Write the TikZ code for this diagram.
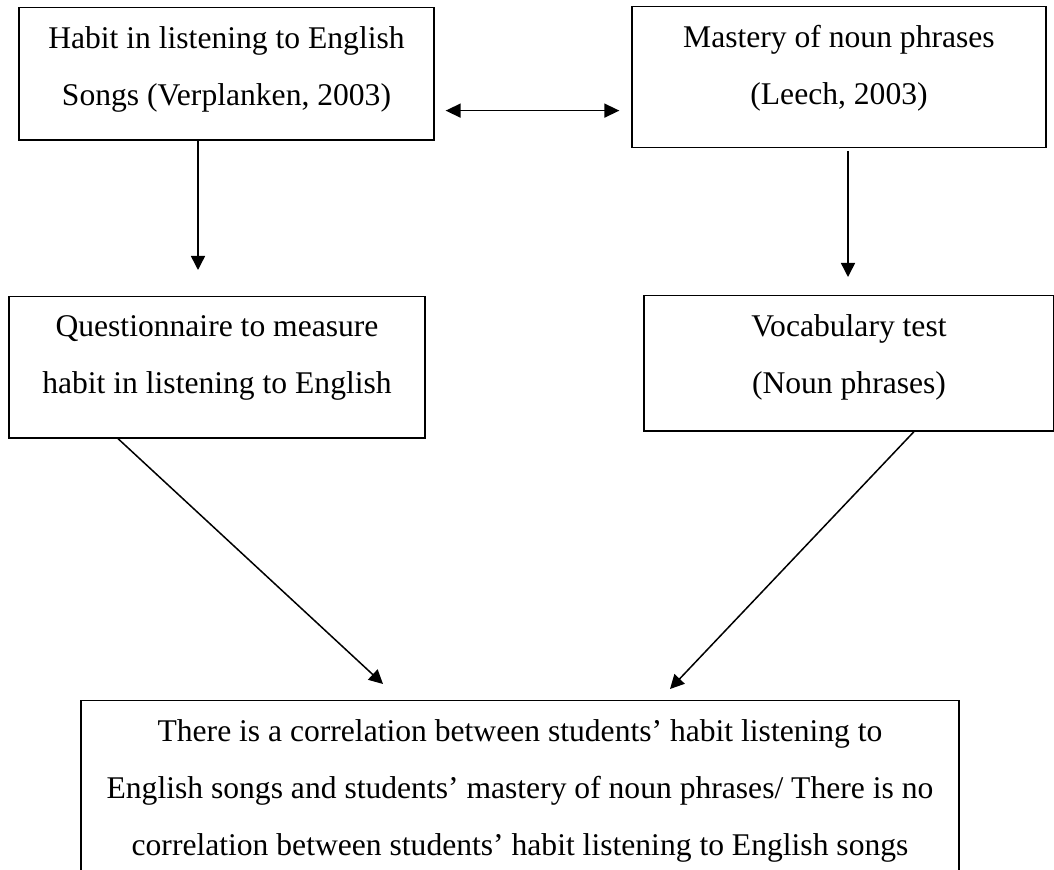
\documentclass[tikz,border=0pt]{standalone}
\usepackage{fontspec}
\setmainfont{Liberation Serif}
\usetikzlibrary{arrows.meta}

\begin{document}
\begin{tikzpicture}[x=1pt, y=-1pt, font=\fontsize{15.8}{28.5}\selectfont]

	\tikzstyle{box} = [draw, line width=0.65pt, rectangle, anchor=north, align=flush center, inner xsep=2pt, inner ysep=9.25pt]
	\tikzstyle{arrow} = [line width=0.75pt, -{Triangle[length=7pt,width=7pt]}]

	\useasboundingbox (0,0) rectangle (527,435);
	\clip (0,0) rectangle (527,435);

	% Boxes
	\node[box, text width=203.5pt, text depth=36.7pt] (habit) at (113.25,3.5) {Habit in listening to English\\ Songs (Verplanken, 2003)};
	\node[box, text width=203pt, text depth=40.7pt] (mastery) at (419.5,3) {Mastery of noun phrases\\ (Leech, 2003)};
	\node[box, text width=204pt, text depth=41.7pt] (questionnaire) at (108.5,148) {Questionnaire to measure\\ habit in listening to English};
	\node[box, text width=201pt, text depth=38.2pt] (vocabulary) at (424.5,147.5) {Vocabulary test\\ (Noun phrases)};
	\node[box, text width=435pt, text depth=150pt] (hypothesis) at (260,350) {There is a correlation between students’ habit listening to\\ English songs and students’ mastery of noun phrases/ There is no\\ correlation between students’ habit listening to English songs};

	% Arrows
	\draw[arrow, {Triangle[length=7.5pt,width=7pt]}-{Triangle[length=7.5pt,width=7pt]}] ([xshift=5.5pt,yshift=15pt]habit.south east) -- ([xshift=-6pt,yshift=15pt]habit.south east -| mastery.west);
	\draw[arrow] ([xshift=-14.25pt]habit.south) -- ([xshift=-14.25pt,yshift=13pt]habit.south |- questionnaire.north);
	\draw[arrow] ([xshift=4.5pt,yshift=-1.5pt]mastery.south) -- ([xshift=4.5pt,yshift=9pt]mastery.south |- vocabulary.north);
	\draw[arrow] ([xshift=-49.5pt]questionnaire.south) -- ([xshift=-68.5pt,yshift=8pt]hypothesis.north);
	\draw[arrow] ([xshift=32.5pt]vocabulary.south) -- ([xshift=75pt,yshift=5.5pt]hypothesis.north);

\end{tikzpicture}
\end{document}
